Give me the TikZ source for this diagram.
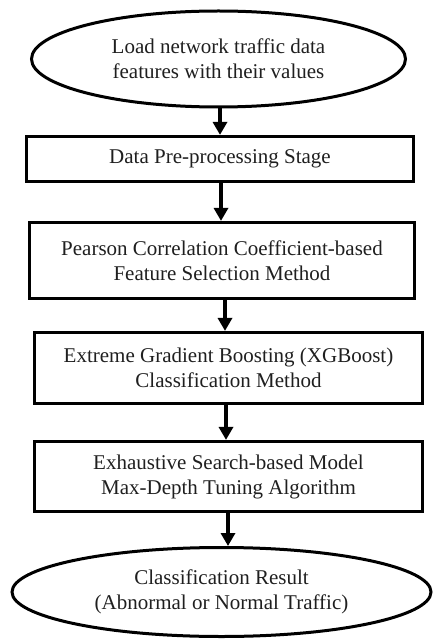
\documentclass[tikz,border=0pt]{standalone}
\usepackage{fontspec}
\setmainfont{Liberation Serif}
\usetikzlibrary{shapes.geometric,arrows.meta}
\begin{document}
\begin{tikzpicture}[x=1bp,y=-1bp,
  every node/.style={font=\fontsize{21bp}{25bp}\selectfont, align=center, inner sep=0pt, text=black!88},
  oval/.style={ellipse, draw, line width=3bp},
  procbox/.style={rectangle, draw, line width=3.2bp},
  arr/.style={line width=3.6bp, -{Triangle[width=14bp,length=13bp]}}]
\useasboundingbox (0,0) rectangle (433,639);
\node[oval, minimum width=374bp, minimum height=96bp] (e1) at (218.5,59) {Load network traffic data\\features with their values};
\node[procbox, minimum width=387bp, minimum height=45bp] (b1) at (220,159) {Data Pre-processing Stage};
\node[procbox, minimum width=385bp, minimum height=76bp] (b2) at (222,260.5) {Pearson Correlation Coefficient-based\\Feature Selection Method};
\node[procbox, minimum width=388bp, minimum height=71bp] (b3) at (228.5,368) {Extreme Gradient Boosting (XGBoost)\\Classification Method};
\node[procbox, minimum width=388bp, minimum height=70bp] (b4) at (228.5,476.5) {Exhaustive Search-based Model\\Max-Depth Tuning Algorithm};
\node[oval, minimum width=419bp, minimum height=89bp] (e2) at (221.5,592) {Classification Result\\(Abnormal or Normal Traffic)};
\draw[arr] ([xshift=1.5bp]e1.south) -- ([xshift=1.5bp]e1.south |- b1.north);
\draw[arr] ([xshift=1bp]b1.south) -- ([xshift=1bp]b1.south |- b2.north);
\draw[arr] ([xshift=3bp]b2.south) -- ([xshift=3bp]b2.south |- b3.north);
\draw[arr] ([xshift=-2.5bp]b3.south) -- ([xshift=-2.5bp]b3.south |- b4.north);
\draw[arr] ([xshift=-0.5bp]b4.south) -- ([xshift=-0.5bp]b4.south |- e2.north);
\end{tikzpicture}
\end{document}
